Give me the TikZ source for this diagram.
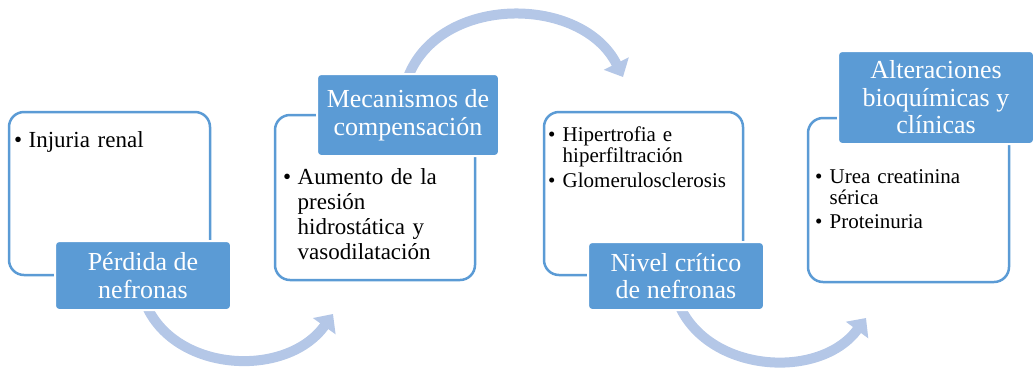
\documentclass[tikz,border=0pt]{standalone}
\usepackage{fontspec}
\setmainfont{Liberation Serif}
\usetikzlibrary{arrows.meta, backgrounds}

\definecolor{azul}{HTML}{5B9BD5}
\definecolor{azulclaro}{HTML}{B4C7E7}

% bullet item with hanging indent
\newcommand{\vineta}[1][0pt]{\par\vspace{#1}\hangindent=14.5pt\hangafter=1\noindent\makebox[14.5pt][l]{\textbullet}}

\tikzset{
  caja/.style={draw=azul, line width=2.5pt, rounded corners=15pt, fill=white},
  titulo/.style={fill=azul, draw=white, line width=2pt, rounded corners=4pt, text=white,
    align=center, inner sep=0pt, font=\fontsize{26}{27.5}\selectfont},
  texto/.style={anchor=north west, align=left, inner sep=0pt, font=\fontsize{23}{25}\selectfont},
  textochico/.style={texto, font=\fontsize{21}{20.5}\selectfont},
  flecha/.style={draw=azulclaro, line width=10pt, -{Triangle[width=27pt, length=15pt]}},
}

\begin{document}
\begin{tikzpicture}[x=1pt, y=-1pt]
    \useasboundingbox (0,0) rectangle (1033,376);

    % Outline boxes
    \node[caja, minimum width=201pt, minimum height=163pt] (caja1) at (109.5,193.5) {};
    \node[caja, minimum width=200pt, minimum height=165pt] (caja2) at (375,197.5) {};
    \node[caja, minimum width=199pt, minimum height=163pt] (caja3) at (643.5,193.5) {};
    \node[caja, minimum width=201pt, minimum height=164pt] (caja4) at (908.5,200) {};

    % Body texts
    \node[texto, text width=185pt] (cuerpo1) at (14,122) {\vineta Injuria renal\par};
    \node[texto, text width=185pt] (cuerpo2) at (283,159)
      {\vineta Aumento de la\newline presión\newline hidrostática y\newline vasodilatación\par};
    \node[textochico, text width=185pt] (cuerpo3) at (548,121)
      {\vineta Hipertrofia e\newline hiperfiltración \vineta[5pt]Glomerulosclerosis\par};
    \node[textochico, text width=185pt] (cuerpo4) at (815,163)
      {\vineta Urea creatinina\newline sérica \vineta[4pt]Proteinuria\par};

    % Titles
    \node[titulo, minimum width=176pt, minimum height=69pt] (perdida) at (143,275.5) {Pérdida de\\nefronas};
    \node[titulo, minimum width=182pt, minimum height=82pt] (compensa) at (408,115) {Mecanismos de\\compensación};
    \node[titulo, minimum width=176pt, minimum height=68pt] (nivel) at (676,276) {Nivel crítico\\de nefronas};
    \node[titulo, minimum width=196pt, minimum height=93pt] (altera) at (936,97.5) {Alteraciones\\bioquímicas y\\clínicas};

    % Curved arrows
    \coordinate (f1) at (333,314);
    \coordinate (f2) at (623,77);
    \coordinate (f3) at (866,318);
    \begin{scope}[on background layer]
      \draw[flecha] ([xshift=4pt, yshift=4pt]perdida.south) .. controls +(31,66) and +(-46,64) .. (f1);
      \draw[flecha] ([yshift=-4pt]compensa.north) .. controls +(32,-83) and +(-41,-82) .. (f2);
      \draw[flecha] ([xshift=4pt, yshift=4pt]nivel.south) .. controls +(31,66) and +(-46,62) .. (f3);
    \end{scope}
\end{tikzpicture}
\end{document}
